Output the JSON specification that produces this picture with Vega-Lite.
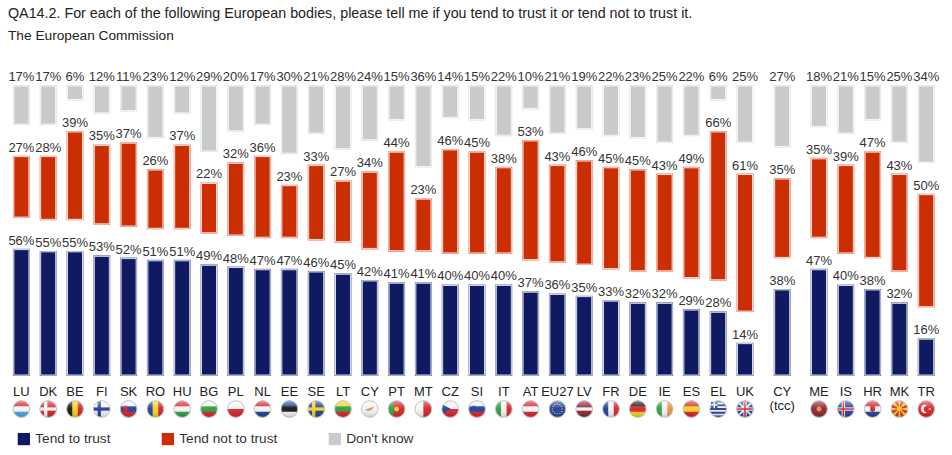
{"$schema":"https://vega.github.io/schema/vega-lite/v6.json","background":"white","padding":{"left":8,"top":7,"right":0,"bottom":0},"config":{"font":"Liberation Sans","view":{"stroke":null},"concat":{"spacing":9.8}},"title":{"text":"QA14.2. For each of the following European bodies, please tell me if you tend to trust it or tend not to trust it.","subtitle":"The European Commission","anchor":"start","frame":"group","fontSize":14.3,"fontWeight":"normal","color":"#222222","subtitleFontSize":13.7,"subtitleColor":"#222222","subtitlePadding":8,"offset":28,"font":"Liberation Sans","subtitleFont":"Liberation Sans"},"bounds":"flush","datasets":{"bars":[
{"country":"LU","group":"EU","series":"Tend to trust","value":0.56},{"country":"LU","group":"EU","series":"Tend not to trust","value":0.27},{"country":"LU","group":"EU","series":"Don't know","value":0.17},
{"country":"DK","group":"EU","series":"Tend to trust","value":0.55},{"country":"DK","group":"EU","series":"Tend not to trust","value":0.28},{"country":"DK","group":"EU","series":"Don't know","value":0.17},
{"country":"BE","group":"EU","series":"Tend to trust","value":0.55},{"country":"BE","group":"EU","series":"Tend not to trust","value":0.39},{"country":"BE","group":"EU","series":"Don't know","value":0.06},
{"country":"FI","group":"EU","series":"Tend to trust","value":0.53},{"country":"FI","group":"EU","series":"Tend not to trust","value":0.35},{"country":"FI","group":"EU","series":"Don't know","value":0.12},
{"country":"SK","group":"EU","series":"Tend to trust","value":0.52},{"country":"SK","group":"EU","series":"Tend not to trust","value":0.37},{"country":"SK","group":"EU","series":"Don't know","value":0.11},
{"country":"RO","group":"EU","series":"Tend to trust","value":0.51},{"country":"RO","group":"EU","series":"Tend not to trust","value":0.26},{"country":"RO","group":"EU","series":"Don't know","value":0.23},
{"country":"HU","group":"EU","series":"Tend to trust","value":0.51},{"country":"HU","group":"EU","series":"Tend not to trust","value":0.37},{"country":"HU","group":"EU","series":"Don't know","value":0.12},
{"country":"BG","group":"EU","series":"Tend to trust","value":0.49},{"country":"BG","group":"EU","series":"Tend not to trust","value":0.22},{"country":"BG","group":"EU","series":"Don't know","value":0.29},
{"country":"PL","group":"EU","series":"Tend to trust","value":0.48},{"country":"PL","group":"EU","series":"Tend not to trust","value":0.32},{"country":"PL","group":"EU","series":"Don't know","value":0.20},
{"country":"NL","group":"EU","series":"Tend to trust","value":0.47},{"country":"NL","group":"EU","series":"Tend not to trust","value":0.36},{"country":"NL","group":"EU","series":"Don't know","value":0.17},
{"country":"EE","group":"EU","series":"Tend to trust","value":0.47},{"country":"EE","group":"EU","series":"Tend not to trust","value":0.23},{"country":"EE","group":"EU","series":"Don't know","value":0.30},
{"country":"SE","group":"EU","series":"Tend to trust","value":0.46},{"country":"SE","group":"EU","series":"Tend not to trust","value":0.33},{"country":"SE","group":"EU","series":"Don't know","value":0.21},
{"country":"LT","group":"EU","series":"Tend to trust","value":0.45},{"country":"LT","group":"EU","series":"Tend not to trust","value":0.27},{"country":"LT","group":"EU","series":"Don't know","value":0.28},
{"country":"CY","group":"EU","series":"Tend to trust","value":0.42},{"country":"CY","group":"EU","series":"Tend not to trust","value":0.34},{"country":"CY","group":"EU","series":"Don't know","value":0.24},
{"country":"PT","group":"EU","series":"Tend to trust","value":0.41},{"country":"PT","group":"EU","series":"Tend not to trust","value":0.44},{"country":"PT","group":"EU","series":"Don't know","value":0.15},
{"country":"MT","group":"EU","series":"Tend to trust","value":0.41},{"country":"MT","group":"EU","series":"Tend not to trust","value":0.23},{"country":"MT","group":"EU","series":"Don't know","value":0.36},
{"country":"CZ","group":"EU","series":"Tend to trust","value":0.40},{"country":"CZ","group":"EU","series":"Tend not to trust","value":0.46},{"country":"CZ","group":"EU","series":"Don't know","value":0.14},
{"country":"SI","group":"EU","series":"Tend to trust","value":0.40},{"country":"SI","group":"EU","series":"Tend not to trust","value":0.45},{"country":"SI","group":"EU","series":"Don't know","value":0.15},
{"country":"IT","group":"EU","series":"Tend to trust","value":0.40},{"country":"IT","group":"EU","series":"Tend not to trust","value":0.38},{"country":"IT","group":"EU","series":"Don't know","value":0.22},
{"country":"AT","group":"EU","series":"Tend to trust","value":0.37},{"country":"AT","group":"EU","series":"Tend not to trust","value":0.53},{"country":"AT","group":"EU","series":"Don't know","value":0.10},
{"country":"EU27","group":"EU","series":"Tend to trust","value":0.36},{"country":"EU27","group":"EU","series":"Tend not to trust","value":0.43},{"country":"EU27","group":"EU","series":"Don't know","value":0.21},
{"country":"LV","group":"EU","series":"Tend to trust","value":0.35},{"country":"LV","group":"EU","series":"Tend not to trust","value":0.46},{"country":"LV","group":"EU","series":"Don't know","value":0.19},
{"country":"FR","group":"EU","series":"Tend to trust","value":0.33},{"country":"FR","group":"EU","series":"Tend not to trust","value":0.45},{"country":"FR","group":"EU","series":"Don't know","value":0.22},
{"country":"DE","group":"EU","series":"Tend to trust","value":0.32},{"country":"DE","group":"EU","series":"Tend not to trust","value":0.45},{"country":"DE","group":"EU","series":"Don't know","value":0.23},
{"country":"IE","group":"EU","series":"Tend to trust","value":0.32},{"country":"IE","group":"EU","series":"Tend not to trust","value":0.43},{"country":"IE","group":"EU","series":"Don't know","value":0.25},
{"country":"ES","group":"EU","series":"Tend to trust","value":0.29},{"country":"ES","group":"EU","series":"Tend not to trust","value":0.49},{"country":"ES","group":"EU","series":"Don't know","value":0.22},
{"country":"EL","group":"EU","series":"Tend to trust","value":0.28},{"country":"EL","group":"EU","series":"Tend not to trust","value":0.66},{"country":"EL","group":"EU","series":"Don't know","value":0.06},
{"country":"UK","group":"EU","series":"Tend to trust","value":0.14},{"country":"UK","group":"EU","series":"Tend not to trust","value":0.61},{"country":"UK","group":"EU","series":"Don't know","value":0.25},
{"country":"CY (tcc)","group":"TCC","series":"Tend to trust","value":0.38},{"country":"CY (tcc)","group":"TCC","series":"Tend not to trust","value":0.35},{"country":"CY (tcc)","group":"TCC","series":"Don't know","value":0.27},
{"country":"ME","group":"CAND","series":"Tend to trust","value":0.47},{"country":"ME","group":"CAND","series":"Tend not to trust","value":0.35},{"country":"ME","group":"CAND","series":"Don't know","value":0.18},
{"country":"IS","group":"CAND","series":"Tend to trust","value":0.40},{"country":"IS","group":"CAND","series":"Tend not to trust","value":0.39},{"country":"IS","group":"CAND","series":"Don't know","value":0.21},
{"country":"HR","group":"CAND","series":"Tend to trust","value":0.38},{"country":"HR","group":"CAND","series":"Tend not to trust","value":0.47},{"country":"HR","group":"CAND","series":"Don't know","value":0.15},
{"country":"MK","group":"CAND","series":"Tend to trust","value":0.32},{"country":"MK","group":"CAND","series":"Tend not to trust","value":0.43},{"country":"MK","group":"CAND","series":"Don't know","value":0.25},
{"country":"TR","group":"CAND","series":"Tend to trust","value":0.16},{"country":"TR","group":"CAND","series":"Tend not to trust","value":0.50},{"country":"TR","group":"CAND","series":"Don't know","value":0.34}
],"flags":[
{"country":"LU","part":"disc","colour":"white"},{"country":"LU","part":"top","colour":"red"},{"country":"LU","part":"bot","colour":"sky"},
{"country":"DK","part":"disc","colour":"red"},{"country":"DK","part":"hbar","colour":"white"},{"country":"DK","part":"nvbar","colour":"white"},
{"country":"BE","part":"disc","colour":"yellow"},{"country":"BE","part":"left","colour":"black"},{"country":"BE","part":"right","colour":"red"},
{"country":"FI","part":"disc","colour":"white"},{"country":"FI","part":"hbar","colour":"blue"},{"country":"FI","part":"nvbar","colour":"blue"},
{"country":"SK","part":"disc","colour":"blue"},{"country":"SK","part":"top","colour":"white"},{"country":"SK","part":"bot","colour":"red"},{"country":"SK","part":"sideshield","colour":"red"},
{"country":"RO","part":"disc","colour":"yellow"},{"country":"RO","part":"left","colour":"blue"},{"country":"RO","part":"right","colour":"red"},
{"country":"HU","part":"disc","colour":"white"},{"country":"HU","part":"top","colour":"red"},{"country":"HU","part":"bot","colour":"green"},
{"country":"BG","part":"disc","colour":"green"},{"country":"BG","part":"top","colour":"white"},{"country":"BG","part":"bot","colour":"red"},
{"country":"PL","part":"disc","colour":"white"},{"country":"PL","part":"bothalf","colour":"red"},
{"country":"NL","part":"disc","colour":"white"},{"country":"NL","part":"top","colour":"red"},{"country":"NL","part":"bot","colour":"blue"},
{"country":"EE","part":"disc","colour":"black"},{"country":"EE","part":"top","colour":"blue"},{"country":"EE","part":"bot","colour":"white"},
{"country":"SE","part":"disc","colour":"blue"},{"country":"SE","part":"hbar","colour":"yellow"},{"country":"SE","part":"nvbar","colour":"yellow"},
{"country":"LT","part":"disc","colour":"green"},{"country":"LT","part":"top","colour":"yellow"},{"country":"LT","part":"bot","colour":"red"},
{"country":"CY","part":"disc","colour":"white"},{"country":"CY","part":"blob","colour":"orange"},
{"country":"PT","part":"disc","colour":"red"},{"country":"PT","part":"left","colour":"green"},{"country":"PT","part":"dot","colour":"yellow"},
{"country":"MT","part":"disc","colour":"white"},{"country":"MT","part":"righthalf","colour":"red"},
{"country":"CZ","part":"disc","colour":"white"},{"country":"CZ","part":"bothalf","colour":"red"},{"country":"CZ","part":"triangle","colour":"blue"},
{"country":"SI","part":"disc","colour":"blue"},{"country":"SI","part":"top","colour":"white"},{"country":"SI","part":"bot","colour":"red"},{"country":"SI","part":"sideshield","colour":"blue"},
{"country":"IT","part":"disc","colour":"white"},{"country":"IT","part":"left","colour":"green"},{"country":"IT","part":"right","colour":"red"},
{"country":"AT","part":"disc","colour":"white"},{"country":"AT","part":"top","colour":"red"},{"country":"AT","part":"bot","colour":"red"},
{"country":"EU27","part":"disc","colour":"blue"},{"country":"EU27","part":"ring","colour":"yellow"},
{"country":"LV","part":"disc","colour":"maroon"},{"country":"LV","part":"hbar","colour":"white"},
{"country":"FR","part":"disc","colour":"white"},{"country":"FR","part":"left","colour":"blue"},{"country":"FR","part":"right","colour":"red"},
{"country":"DE","part":"disc","colour":"red"},{"country":"DE","part":"top","colour":"black"},{"country":"DE","part":"bot","colour":"yellow"},
{"country":"IE","part":"disc","colour":"white"},{"country":"IE","part":"left","colour":"green"},{"country":"IE","part":"right","colour":"orange"},
{"country":"ES","part":"disc","colour":"yellow"},{"country":"ES","part":"top","colour":"red"},{"country":"ES","part":"bot","colour":"red"},
{"country":"EL","part":"disc","colour":"blue"},{"country":"EL","part":"stripes","colour":"white"},{"country":"EL","part":"canton","colour":"blue"},{"country":"EL","part":"cantoncross","colour":"white"},
{"country":"UK","part":"disc","colour":"blue"},{"country":"UK","part":"xcross","colour":"white"},{"country":"UK","part":"hbar","colour":"white"},{"country":"UK","part":"vbar","colour":"white"},{"country":"UK","part":"hbarthin","colour":"red"},{"country":"UK","part":"vbarthin","colour":"red"},
{"country":"ME","part":"disc","colour":"maroon"},{"country":"ME","part":"dot","colour":"orange"},
{"country":"IS","part":"disc","colour":"blue"},{"country":"IS","part":"hbar","colour":"white"},{"country":"IS","part":"nvbar","colour":"white"},{"country":"IS","part":"hbarthin","colour":"red"},{"country":"IS","part":"nvbarthin","colour":"red"},
{"country":"HR","part":"disc","colour":"white"},{"country":"HR","part":"top","colour":"red"},{"country":"HR","part":"bot","colour":"blue"},{"country":"HR","part":"shield","colour":"red"},
{"country":"MK","part":"disc","colour":"red"},{"country":"MK","part":"sun","colour":"yellow"},{"country":"MK","part":"dot","colour":"yellow"},
{"country":"TR","part":"disc","colour":"red"},{"country":"TR","part":"crescent","colour":"white"}
]},
"hconcat":[
{"width":750.4,"height":289,"data":{"name":"bars"},"transform":[{"filter":"datum.group === 'EU'"},{"stack":"value","groupby":["country"],"sort":[{"field":"series","order":"descending"}],"as":["s0","s1"]}],"encoding":{"x":{"field":"country","type":"nominal","sort":null,"title":null,"scale":{"domain":["LU","DK","BE","FI","SK","RO","HU","BG","PL","NL","EE","SE","LT","CY","PT","MT","CZ","SI","IT","AT","EU27","LV","FR","DE","IE","ES","EL","UK"],"paddingInner":0,"paddingOuter":0},"axis":{"domain":false,"ticks":false,"labelAngle":0,"labelFontSize":13,"labelColor":"#222222","labelPadding":10,"labelOverlap":false,"labelBound":false,"labelFlush":false}}},"layer":[
{"transform":[{"filter":"datum.series === 'Tend to trust'"}],"encoding":{"y":{"field":"s1","type":"quantitative","title":null,"axis":null,"scale":{"domain":[0,1.291]}}},"layer":[{"mark":{"type":"bar","size":15,"fill":"#6a75a8","stroke":"#6a75a8","strokeWidth":2},"encoding":{"y2":{"field":"s0"}}},{"mark":{"type":"bar","size":15,"stroke":"white","strokeWidth":0.8},"encoding":{"y2":{"field":"s0"},"color":{"field":"series","type":"nominal","scale":{"domain":["Tend to trust","Tend not to trust","Don't know"],"range":["#0f1a63","#cc2e04","#c9cacc"]},"legend":{"title":null,"orient":"none","direction":"horizontal","legendX":9,"legendY":346,"symbolType":"square","symbolSize":150,"symbolStrokeWidth":0,"labelFontSize":13.7,"labelColor":"#333333","columnPadding":50,"labelOffset":4.5}}}},{"mark":{"type":"text","baseline":"bottom","dy":-2,"fontSize":13,"color":"#333333"},"encoding":{"text":{"field":"value","format":".0%"}}}]},
{"transform":[{"filter":"datum.series === 'Tend not to trust'"}],"encoding":{"y":{"field":"s1","type":"quantitative","title":null,"axis":null,"scale":{"domain":[-0.1455,1.1455]}}},"layer":[{"mark":{"type":"bar","size":15,"fill":"#e97a60","stroke":"#e97a60","strokeWidth":2},"encoding":{"y2":{"field":"s0"}}},{"mark":{"type":"bar","size":15,"stroke":"white","strokeWidth":0.8},"encoding":{"y2":{"field":"s0"},"color":{"field":"series","type":"nominal"}}},{"mark":{"type":"text","baseline":"bottom","dy":-2,"fontSize":13,"color":"#333333"},"encoding":{"text":{"field":"value","format":".0%"}}}]},
{"transform":[{"filter":"datum.series === \"Don't know\""}],"encoding":{"y":{"field":"s1","type":"quantitative","title":null,"axis":null,"scale":{"domain":[-0.291,1]}}},"layer":[{"mark":{"type":"bar","size":15,"fill":"#dcdcdc","stroke":"#dcdcdc","strokeWidth":2},"encoding":{"y2":{"field":"s0"}}},{"mark":{"type":"bar","size":15,"stroke":"white","strokeWidth":0.8},"encoding":{"y2":{"field":"s0"},"color":{"field":"series","type":"nominal"}}},{"mark":{"type":"text","baseline":"bottom","dy":-2,"fontSize":13,"color":"#333333"},"encoding":{"text":{"field":"value","format":".0%"}}}]},
{"data":{"name":"flags"},"transform":[{"filter":{"not":{"field":"country","oneOf":["ME","IS","HR","MK","TR"]}}}],"mark":{"type":"point","filled":true,"size":278,"opacity":1,"strokeWidth":0},"encoding":{"y":{"datum":-0.152,"type":"quantitative","title":null,"axis":null,"scale":{"domain":[0,1.291]}},"fill":{"field":"colour","type":"nominal","legend":null,"scale":{"domain":["white","red","sky","blue","yellow","black","green","orange","maroon"],"range":["#f4f4f4","#d8222a","#4aa3e6","#1f3f9a","#f4d21f","#151515","#2f9e3f","#e8913a","#8e2430"]}},"shape":{"field":"part","type":"nominal","legend":null,"scale":{"domain":["disc","top","bot","left","right","bothalf","righthalf","hbar","vbar","nvbar","hbarthin","vbarthin","nvbarthin","xcross","stripes","canton","cantoncross","triangle","ring","blob","dot","shield","sideshield","sun","crescent"],"range":["M-1,0 A1,1 0 1,1 1,0 A1,1 0 1,1 -1,0 Z","M-0.943,-0.333 A1,1 0 0,1 0.943,-0.333 Z","M-0.943,0.333 A1,1 0 0,0 0.943,0.333 Z","M-0.333,-0.943 A1,1 0 0,0 -0.333,0.943 Z","M0.333,-0.943 A1,1 0 0,1 0.333,0.943 Z","M-1,0 A1,1 0 0,0 1,0 Z","M0,-1 A1,1 0 0,1 0,1 Z","M-0.98,-0.2 L0.98,-0.2 L0.98,0.2 L-0.98,0.2 Z","M-0.2,-0.98 L0.2,-0.98 L0.2,0.98 L-0.2,0.98 Z","M-0.5,-0.866 L-0.1,-0.995 L-0.1,0.995 L-0.5,0.866 Z","M-0.99,-0.09 L0.99,-0.09 L0.99,0.09 L-0.99,0.09 Z","M-0.09,-0.99 L0.09,-0.99 L0.09,0.99 L-0.09,0.99 Z","M-0.39,-0.92 L-0.21,-0.977 L-0.21,0.977 L-0.39,0.92 Z","M-0.78,-0.62 L-0.62,-0.78 L0.78,0.62 L0.62,0.78 Z M0.62,-0.78 L0.78,-0.62 L-0.62,0.78 L-0.78,0.62 Z","M-0.6,-0.78 L0.6,-0.78 L0.6,-0.56 L-0.6,-0.56 Z M-0.94,-0.33 L0.94,-0.33 L0.94,-0.11 L-0.94,-0.11 Z M-0.94,0.11 L0.94,0.11 L0.94,0.33 L-0.94,0.33 Z M-0.8,0.56 L0.8,0.56 L0.8,0.78 L-0.8,0.78 Z","M-0.85,-0.85 L-0.1,-0.85 L-0.1,-0.1 L-0.85,-0.1 Z","M-0.85,-0.56 L-0.1,-0.56 L-0.1,-0.38 L-0.85,-0.38 Z M-0.56,-0.85 L-0.38,-0.85 L-0.38,-0.1 L-0.56,-0.1 Z","M-0.87,-0.5 L0.1,0 L-0.87,0.5 A1,1 0 0,1 -0.87,-0.5 Z","M-0.07,-0.67 h0.14 v0.14 h-0.14 z M0.23,-0.59 h0.14 v0.14 h-0.14 z M0.45,-0.37 h0.14 v0.14 h-0.14 z M0.53,-0.07 h0.14 v0.14 h-0.14 z M0.45,0.23 h0.14 v0.14 h-0.14 z M0.23,0.45 h0.14 v0.14 h-0.14 z M-0.07,0.53 h0.14 v0.14 h-0.14 z M-0.37,0.45 h0.14 v0.14 h-0.14 z M-0.59,0.23 h0.14 v0.14 h-0.14 z M-0.67,-0.07 h0.14 v0.14 h-0.14 z M-0.59,-0.37 h0.14 v0.14 h-0.14 z M-0.37,-0.59 h0.14 v0.14 h-0.14 z","M-0.55,0.05 L-0.1,-0.1 L0.55,-0.3 L0.3,0 L0.05,0.22 L-0.3,0.2 Z","M-0.3,0 A0.3,0.3 0 1,1 0.3,0 A0.3,0.3 0 1,1 -0.3,0 Z","M-0.28,-0.38 L0.28,-0.38 L0.28,0.2 L0,0.42 L-0.28,0.2 Z","M-0.62,-0.38 L-0.12,-0.38 L-0.12,0.15 L-0.37,0.35 L-0.62,0.15 Z","M-0.18,-0.98 L0.18,-0.98 L0,0 Z M-0.18,0.98 L0.18,0.98 L0,0 Z M-0.98,-0.18 L-0.98,0.18 L0,0 Z M0.98,-0.18 L0.98,0.18 L0,0 Z M0.56,-0.83 L0.83,-0.56 L0,0 Z M-0.56,-0.83 L-0.83,-0.56 L0,0 Z M0.56,0.83 L0.83,0.56 L0,0 Z M-0.56,0.83 L-0.83,0.56 L0,0 Z","M0.12,-0.42 A0.5,0.5 0 1,0 0.12,0.42 A0.42,0.42 0 1,1 0.12,-0.42 Z M0.2,0 L0.62,-0.15 L0.5,0 L0.62,0.15 Z"]}}}},
{"data":{"name":"flags"},"transform":[{"filter":"datum.part === 'disc'"},{"filter":{"not":{"field":"country","oneOf":["ME","IS","HR","MK","TR"]}}}],"mark":{"type":"point","shape":"circle","filled":true,"size":278,"opacity":1,"stroke":"#c4c4c4","strokeWidth":1,"fill":{"gradient":"linear","x1":0,"y1":0,"x2":0,"y2":1,"stops":[{"offset":0,"color":"rgba(255,255,255,0.5)"},{"offset":0.45,"color":"rgba(255,255,255,0.05)"},{"offset":1,"color":"rgba(0,0,0,0.18)"}]}},"encoding":{"y":{"datum":-0.152,"type":"quantitative","title":null,"axis":null,"scale":{"domain":[0,1.291]}}}}
],"resolve":{"scale":{"y":"independent"}}},
{"width":26.8,"height":289,"data":{"name":"bars"},"transform":[{"filter":"datum.group === 'TCC'"},{"stack":"value","groupby":["country"],"sort":[{"field":"series","order":"descending"}],"as":["s0","s1"]}],"encoding":{"x":{"field":"country","type":"nominal","sort":null,"title":null,"scale":{"domain":["CY (tcc)"],"paddingInner":0,"paddingOuter":0},"axis":{"domain":false,"ticks":false,"labelAngle":0,"labelFontSize":13,"labelColor":"#222222","labelPadding":10,"labelOverlap":false,"labelBound":false,"labelFlush":false,"labelLineHeight":14,"labelExpr":"['CY','(tcc)']"}}},"layer":[
{"transform":[{"filter":"datum.series === 'Tend to trust'"}],"encoding":{"y":{"field":"s1","type":"quantitative","title":null,"axis":null,"scale":{"domain":[0,1.291]}}},"layer":[{"mark":{"type":"bar","size":15,"fill":"#6a75a8","stroke":"#6a75a8","strokeWidth":2},"encoding":{"y2":{"field":"s0"}}},{"mark":{"type":"bar","size":15,"stroke":"white","strokeWidth":0.8},"encoding":{"y2":{"field":"s0"},"color":{"field":"series","type":"nominal"}}},{"mark":{"type":"text","baseline":"bottom","dy":-2,"fontSize":13,"color":"#333333"},"encoding":{"text":{"field":"value","format":".0%"}}}]},
{"transform":[{"filter":"datum.series === 'Tend not to trust'"}],"encoding":{"y":{"field":"s1","type":"quantitative","title":null,"axis":null,"scale":{"domain":[-0.1455,1.1455]}}},"layer":[{"mark":{"type":"bar","size":15,"fill":"#e97a60","stroke":"#e97a60","strokeWidth":2},"encoding":{"y2":{"field":"s0"}}},{"mark":{"type":"bar","size":15,"stroke":"white","strokeWidth":0.8},"encoding":{"y2":{"field":"s0"},"color":{"field":"series","type":"nominal"}}},{"mark":{"type":"text","baseline":"bottom","dy":-2,"fontSize":13,"color":"#333333"},"encoding":{"text":{"field":"value","format":".0%"}}}]},
{"transform":[{"filter":"datum.series === \"Don't know\""}],"encoding":{"y":{"field":"s1","type":"quantitative","title":null,"axis":null,"scale":{"domain":[-0.291,1]}}},"layer":[{"mark":{"type":"bar","size":15,"fill":"#dcdcdc","stroke":"#dcdcdc","strokeWidth":2},"encoding":{"y2":{"field":"s0"}}},{"mark":{"type":"bar","size":15,"stroke":"white","strokeWidth":0.8},"encoding":{"y2":{"field":"s0"},"color":{"field":"series","type":"nominal"}}},{"mark":{"type":"text","baseline":"bottom","dy":-2,"fontSize":13,"color":"#333333"},"encoding":{"text":{"field":"value","format":".0%"}}}]}
],"resolve":{"scale":{"y":"independent"}}},
{"width":134,"height":289,"data":{"name":"bars"},"transform":[{"filter":"datum.group === 'CAND'"},{"stack":"value","groupby":["country"],"sort":[{"field":"series","order":"descending"}],"as":["s0","s1"]}],"encoding":{"x":{"field":"country","type":"nominal","sort":null,"title":null,"scale":{"domain":["ME","IS","HR","MK","TR"],"paddingInner":0,"paddingOuter":0},"axis":{"domain":false,"ticks":false,"labelAngle":0,"labelFontSize":13,"labelColor":"#222222","labelPadding":10,"labelOverlap":false,"labelBound":false,"labelFlush":false}}},"layer":[
{"transform":[{"filter":"datum.series === 'Tend to trust'"}],"encoding":{"y":{"field":"s1","type":"quantitative","title":null,"axis":null,"scale":{"domain":[0,1.291]}}},"layer":[{"mark":{"type":"bar","size":15,"fill":"#6a75a8","stroke":"#6a75a8","strokeWidth":2},"encoding":{"y2":{"field":"s0"}}},{"mark":{"type":"bar","size":15,"stroke":"white","strokeWidth":0.8},"encoding":{"y2":{"field":"s0"},"color":{"field":"series","type":"nominal"}}},{"mark":{"type":"text","baseline":"bottom","dy":-2,"fontSize":13,"color":"#333333"},"encoding":{"text":{"field":"value","format":".0%"}}}]},
{"transform":[{"filter":"datum.series === 'Tend not to trust'"}],"encoding":{"y":{"field":"s1","type":"quantitative","title":null,"axis":null,"scale":{"domain":[-0.1455,1.1455]}}},"layer":[{"mark":{"type":"bar","size":15,"fill":"#e97a60","stroke":"#e97a60","strokeWidth":2},"encoding":{"y2":{"field":"s0"}}},{"mark":{"type":"bar","size":15,"stroke":"white","strokeWidth":0.8},"encoding":{"y2":{"field":"s0"},"color":{"field":"series","type":"nominal"}}},{"mark":{"type":"text","baseline":"bottom","dy":-2,"fontSize":13,"color":"#333333"},"encoding":{"text":{"field":"value","format":".0%"}}}]},
{"transform":[{"filter":"datum.series === \"Don't know\""}],"encoding":{"y":{"field":"s1","type":"quantitative","title":null,"axis":null,"scale":{"domain":[-0.291,1]}}},"layer":[{"mark":{"type":"bar","size":15,"fill":"#dcdcdc","stroke":"#dcdcdc","strokeWidth":2},"encoding":{"y2":{"field":"s0"}}},{"mark":{"type":"bar","size":15,"stroke":"white","strokeWidth":0.8},"encoding":{"y2":{"field":"s0"},"color":{"field":"series","type":"nominal"}}},{"mark":{"type":"text","baseline":"bottom","dy":-2,"fontSize":13,"color":"#333333"},"encoding":{"text":{"field":"value","format":".0%"}}}]},
{"data":{"name":"flags"},"transform":[{"filter":{"field":"country","oneOf":["ME","IS","HR","MK","TR"]}}],"mark":{"type":"point","filled":true,"size":278,"opacity":1,"strokeWidth":0},"encoding":{"y":{"datum":-0.152,"type":"quantitative","title":null,"axis":null,"scale":{"domain":[0,1.291]}},"fill":{"field":"colour","type":"nominal","legend":null,"scale":{"domain":["white","red","sky","blue","yellow","black","green","orange","maroon"],"range":["#f4f4f4","#d8222a","#4aa3e6","#1f3f9a","#f4d21f","#151515","#2f9e3f","#e8913a","#8e2430"]}},"shape":{"field":"part","type":"nominal","legend":null,"scale":{"domain":["disc","top","bot","hbar","nvbar","hbarthin","nvbarthin","dot","shield","sun","crescent"],"range":["M-1,0 A1,1 0 1,1 1,0 A1,1 0 1,1 -1,0 Z","M-0.943,-0.333 A1,1 0 0,1 0.943,-0.333 Z","M-0.943,0.333 A1,1 0 0,0 0.943,0.333 Z","M-0.98,-0.2 L0.98,-0.2 L0.98,0.2 L-0.98,0.2 Z","M-0.5,-0.866 L-0.1,-0.995 L-0.1,0.995 L-0.5,0.866 Z","M-0.99,-0.09 L0.99,-0.09 L0.99,0.09 L-0.99,0.09 Z","M-0.39,-0.92 L-0.21,-0.977 L-0.21,0.977 L-0.39,0.92 Z","M-0.3,0 A0.3,0.3 0 1,1 0.3,0 A0.3,0.3 0 1,1 -0.3,0 Z","M-0.28,-0.38 L0.28,-0.38 L0.28,0.2 L0,0.42 L-0.28,0.2 Z","M-0.18,-0.98 L0.18,-0.98 L0,0 Z M-0.18,0.98 L0.18,0.98 L0,0 Z M-0.98,-0.18 L-0.98,0.18 L0,0 Z M0.98,-0.18 L0.98,0.18 L0,0 Z M0.56,-0.83 L0.83,-0.56 L0,0 Z M-0.56,-0.83 L-0.83,-0.56 L0,0 Z M0.56,0.83 L0.83,0.56 L0,0 Z M-0.56,0.83 L-0.83,0.56 L0,0 Z","M0.12,-0.42 A0.5,0.5 0 1,0 0.12,0.42 A0.42,0.42 0 1,1 0.12,-0.42 Z M0.2,0 L0.62,-0.15 L0.5,0 L0.62,0.15 Z"]}}}},
{"data":{"name":"flags"},"transform":[{"filter":"datum.part === 'disc'"},{"filter":{"field":"country","oneOf":["ME","IS","HR","MK","TR"]}}],"mark":{"type":"point","shape":"circle","filled":true,"size":278,"opacity":1,"stroke":"#c4c4c4","strokeWidth":1,"fill":{"gradient":"linear","x1":0,"y1":0,"x2":0,"y2":1,"stops":[{"offset":0,"color":"rgba(255,255,255,0.5)"},{"offset":0.45,"color":"rgba(255,255,255,0.05)"},{"offset":1,"color":"rgba(0,0,0,0.18)"}]}},"encoding":{"y":{"datum":-0.152,"type":"quantitative","title":null,"axis":null,"scale":{"domain":[0,1.291]}}}}
],"resolve":{"scale":{"y":"independent"}}}
],"resolve":{"scale":{"color":"shared"},"legend":{"color":"shared"}}}
